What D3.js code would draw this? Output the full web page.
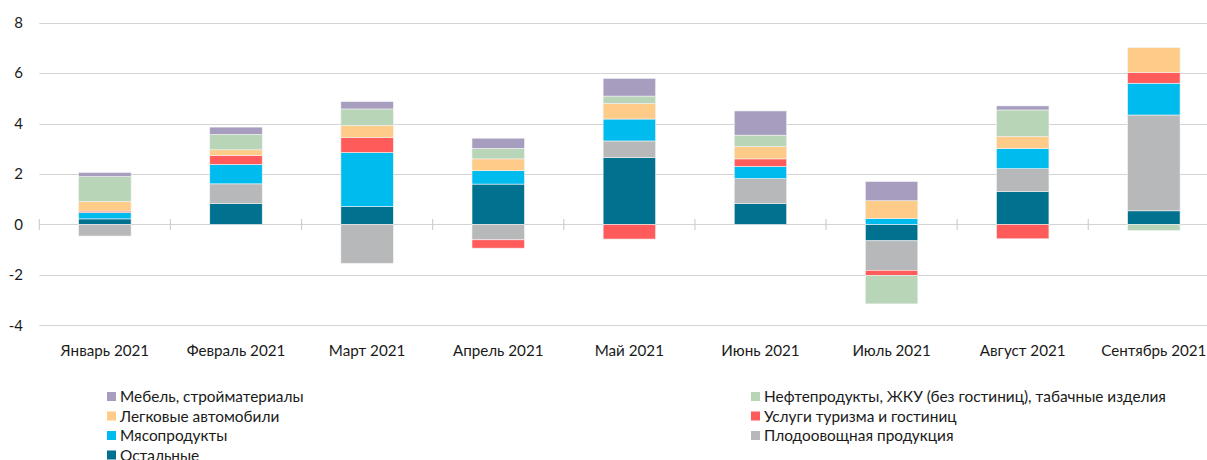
<!DOCTYPE html>
<html><head><meta charset="utf-8">
<script src="https://cdn.jsdelivr.net/npm/d3@7"></script>
<style>
html,body{margin:0;padding:0;background:#fff;}
svg{display:block;}
text{font-family:Lato,"Noto Sans",sans-serif;fill:#1a1a1a;}
</style></head>
<body>
<svg id="chart" width="1207" height="460"></svg>
<script>
const categories = ["Январь 2021","Февраль 2021","Март 2021","Апрель 2021","Май 2021","Июнь 2021","Июль 2021","Август 2021","Сентябрь 2021"];
const yTicks = [-4,-2,0,2,4,6,8];

const ostalnye   = [0.22, 0.83, 0.71, 1.60, 2.65, 0.83, -0.65, 1.30, 0.54];
const plodoovosh = [-0.46, 0.78, -1.54, -0.61, 0.66, 0.99, -1.17, 0.91, 3.80];
const myaso      = [0.25, 0.77, 2.14, 0.53, 0.87, 0.48, 0.23, 0.80, 1.26];
const turizm     = [0.06, 0.36, 0.59, -0.33, -0.58, 0.30, -0.21, -0.57, 0.42];
const avto       = [0.38, 0.22, 0.49, 0.47, 0.62, 0.49, 0.71, 0.48, 0.99];
const neft       = [0.99, 0.61, 0.65, 0.42, 0.29, 0.45, -1.12, 1.05, -0.24];
const mebel      = [0.16, 0.29, 0.29, 0.40, 0.70, 0.96, 0.76, 0.16, 0.00];

const seriesNames = ["Остальные","Плодоовощная продукция","Мясопродукты","Услуги туризма и гостиниц","Легковые автомобили","Нефтепродукты, ЖКУ (без гостиниц), табачные изделия","Мебель, стройматериалы"];
const seriesValues = [ostalnye, plodoovosh, myaso, turizm, avto, neft, mebel];
const seriesColors = ["#00718F","#B7B8BA","#00BBEE","#FF5B5B","#FFCB88","#B8D5B8","#A69DBF"];

// legend layout order
const legendLeft = ["Мебель, стройматериалы","Легковые автомобили","Мясопродукты","Остальные"];
const legendRight = ["Нефтепродукты, ЖКУ (без гостиниц), табачные изделия","Услуги туризма и гостиниц","Плодоовощная продукция"];

const rows = categories.map((c,i)=>{
  const r = {cat:c};
  seriesNames.forEach((n,k)=>r[n]=seriesValues[k][i]);
  return r;
});

const svg = d3.select("#chart");
const x = d3.scaleBand().domain(categories).range([39.3, 1219.4]).paddingInner(0).paddingOuter(0);
const y = d3.scaleLinear().domain([-4, 8]).range([325.3, 22.7]);
const color = d3.scaleOrdinal().domain(seriesNames).range(seriesColors);

// gridlines
svg.append("g").selectAll("line").data(yTicks).join("line")
  .attr("x1", 39.3).attr("x2", 1207)
  .attr("y1", d=>Math.round(y(d))+0.5).attr("y2", d=>Math.round(y(d))+0.5)
  .attr("stroke", "#d4d4d4").attr("stroke-width", 1.2);

// y labels
svg.append("g").selectAll("text").data(yTicks).join("text")
  .attr("x", 23).attr("y", d=>y(d)).attr("dy","0.35em")
  .attr("text-anchor","end").style("font-size","15px").text(d=>d);

// category boundary ticks
const bounds = categories.map(c=>x(c)).concat([x(categories[8])+x.bandwidth()]);
svg.append("g").selectAll("line").data(bounds).join("line")
  .attr("x1", d=>d).attr("x2", d=>d)
  .attr("y1", y(0)-5.5).attr("y2", y(0)+5.5)
  .attr("stroke","#cfcfcf").attr("stroke-width",1.2);

// stacked bars
const stack = d3.stack().keys(seriesNames).offset(d3.stackOffsetDiverging);
const stacked = stack(rows);
const bw = x.bandwidth()*0.4;
svg.append("g").selectAll("g").data(stacked).join("g")
  .attr("fill", d=>color(d.key))
  .selectAll("rect").data(d=>d).join("rect")
  .attr("x", d=>x(d.data.cat)+(x.bandwidth()-bw)/2)
  .attr("width", bw)
  .attr("y", d=>y(Math.max(d[0],d[1])))
  .attr("height", d=>Math.abs(y(d[0])-y(d[1])))
  .attr("stroke","#f2f2f2").attr("stroke-width",0.6);

// x labels
svg.append("g").selectAll("text").data(categories).join("text")
  .attr("x", d=>x(d)+x.bandwidth()/2).attr("y", 351).attr("dy","0.35em")
  .attr("text-anchor","middle").style("font-size","15.2px").text(d=>d);

// legend
function legendCol(names, x0, y0){
  const g = svg.append("g");
  const it = g.selectAll("g").data(names).join("g")
    .attr("transform",(d,i)=>`translate(${x0},${y0+i*19.5})`);
  it.append("rect").attr("x",0).attr("y",-5).attr("width",9).attr("height",9).attr("fill",d=>color(d));
  it.append("text").attr("x",13).attr("y",0).attr("dy","0.35em").style("font-size","15.4px").text(d=>d);
}
legendCol(legendLeft, 107, 397);
legendCol(legendRight, 751, 397);
</script>
</body></html>
